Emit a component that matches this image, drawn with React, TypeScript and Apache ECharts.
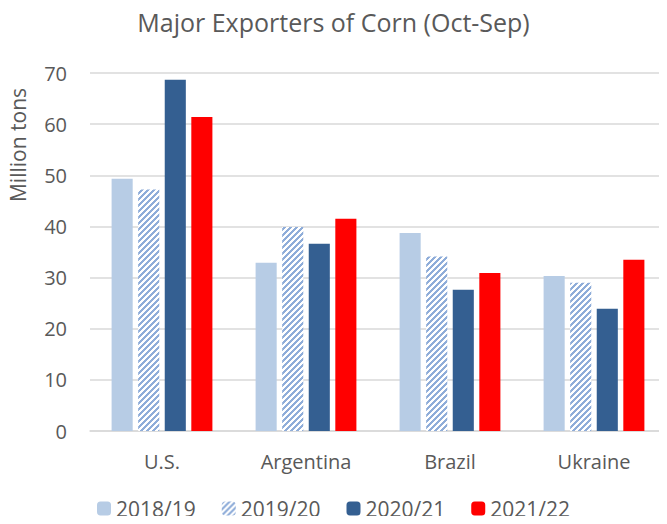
import React, { useEffect, useRef } from "react";
import * as echarts from "echarts";

const categories = ["U.S.", "Argentina", "Brazil", "Ukraine"];
const seriesNames = ["2018/19", "2019/20", "2020/21", "2021/22"];
const v2018 = [49.3, 32.9, 38.7, 30.3];
const v2019 = [47.2, 39.9, 34.1, 29.0];
const v2020 = [68.7, 36.6, 27.6, 23.9];
const v2021 = [61.4, 41.5, 30.9, 33.5];
const yTicks = [0, 10, 20, 30, 40, 50, 60, 70];

const FONT = "'Open Sans', 'Liberation Sans', sans-serif";
const GREY = "#595959";

function makeHatch(): HTMLCanvasElement {
  const c = document.createElement("canvas");
  const n = 6;
  c.width = n;
  c.height = n;
  const ctx = c.getContext("2d")!;
  ctx.fillStyle = "#ffffff";
  ctx.fillRect(0, 0, n, n);
  ctx.fillStyle = "#8fadd9";
  for (let x = 0; x < n; x++) {
    for (let y = 0; y < n; y++) {
      if ((x + y) % n < 3) ctx.fillRect(x, y, 1, 1);
    }
  }
  return c;
}

export default function App() {
  const ref = useRef<HTMLDivElement>(null);
  useEffect(() => {
    if (!ref.current) return;
    const chart = echarts.init(ref.current, undefined, { renderer: "svg" });
    const hatchColor = { image: makeHatch(), repeat: "repeat" };
    chart.setOption({
      animation: false,
      title: {
        text: "Major Exporters of Corn (Oct-Sep)",
        left: "center",
        top: 4,
        textStyle: { fontFamily: FONT, fontSize: 25, fontWeight: "normal", color: GREY },
      },
      grid: { left: 90, right: 1, top: 73, bottom: 93 },
      legend: {
        bottom: 0,
        left: "center",
        itemWidth: 14,
        itemHeight: 14,
        itemGap: 26,
        textStyle: { fontFamily: FONT, fontSize: 21, color: GREY },
        data: seriesNames,
      },
      graphic: [
        {
          type: "text",
          x: 18,
          y: 145,
          rotation: Math.PI / 2,
          style: {
            text: "Million tons",
            fontFamily: FONT,
            fontSize: 21,
            fill: GREY,
            textAlign: "center",
            textVerticalAlign: "middle",
          },
        },
      ],
      xAxis: {
        type: "category",
        data: categories,
        axisTick: { show: false },
        axisLine: { lineStyle: { color: "#d9d9d9", width: 1.5 } },
        axisLabel: { fontFamily: FONT, fontSize: 20, color: GREY, margin: 20 },
      },
      yAxis: {
        type: "value",
        min: yTicks[0],
        max: yTicks[yTicks.length - 1],
        interval: 10,
        axisLine: { show: false },
        axisTick: { show: false },
        splitLine: { lineStyle: { color: "#d9d9d9", width: 1.5 } },
        axisLabel: { fontFamily: FONT, fontSize: 20, color: GREY, margin: 23 },
      },
      series: [
        {
          name: seriesNames[0],
          type: "bar",
          data: v2018,
          barGap: "26%",
          barCategoryGap: "30%",
          itemStyle: { color: "#b7cce5" },
        },
        {
          name: seriesNames[1],
          type: "bar",
          data: v2019,
          itemStyle: { color: hatchColor },
        },
        {
          name: seriesNames[2],
          type: "bar",
          data: v2020,
          itemStyle: { color: "#345f91" },
        },
        {
          name: seriesNames[3],
          type: "bar",
          data: v2021,
          itemStyle: { color: "#ff0000" },
        },
      ],
    });
    return () => chart.dispose();
  }, []);
  return <div ref={ref} style={{ width: 667, height: 524, margin: -8 }} />;
}
